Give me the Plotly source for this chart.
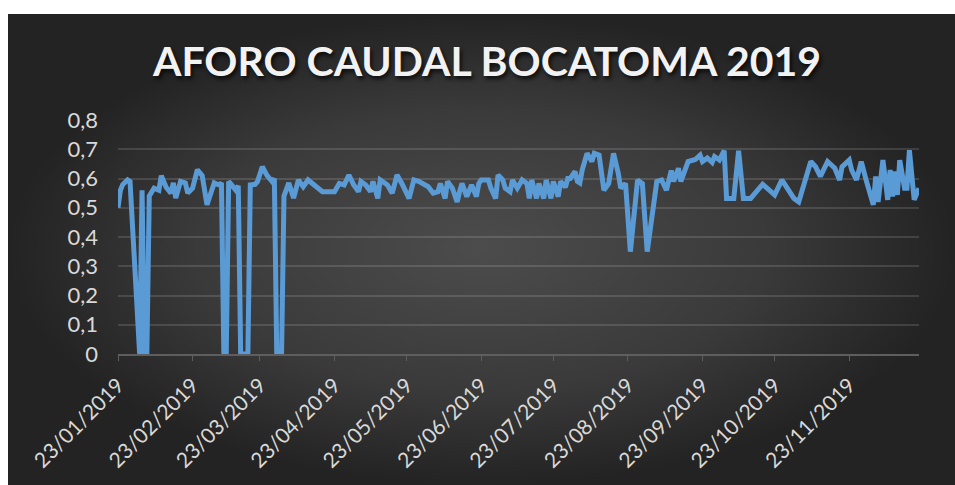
import plotly.graph_objects as go

# ---- data ----
fechas = [
    "2019-01-23", "2019-01-24", "2019-01-25", "2019-01-26", "2019-01-27", "2019-01-28",
    "2019-02-01", "2019-02-02", "2019-02-03", "2019-02-04", "2019-02-05", "2019-02-07",
    "2019-02-09", "2019-02-10", "2019-02-12", "2019-02-14", "2019-02-15", "2019-02-16",
    "2019-02-18", "2019-02-20", "2019-02-21", "2019-02-23", "2019-02-25", "2019-02-27",
    "2019-03-01", "2019-03-04", "2019-03-06", "2019-03-07", "2019-03-08", "2019-03-09",
    "2019-03-10", "2019-03-13", "2019-03-14", "2019-03-15", "2019-03-16", "2019-03-17",
    "2019-03-18", "2019-03-19", "2019-03-21", "2019-03-22", "2019-03-24", "2019-03-26",
    "2019-03-28", "2019-03-29", "2019-03-30", "2019-03-31", "2019-04-01", "2019-04-02",
    "2019-04-04", "2019-04-06", "2019-04-08", "2019-04-10", "2019-04-12", "2019-04-18",
    "2019-04-23", "2019-04-25", "2019-04-27", "2019-04-29", "2019-05-01", "2019-05-03",
    "2019-05-04", "2019-05-06", "2019-05-08", "2019-05-09", "2019-05-11", "2019-05-12",
    "2019-05-15", "2019-05-17", "2019-05-19", "2019-05-21", "2019-05-24", "2019-05-26",
    "2019-05-28", "2019-06-01", "2019-06-03", "2019-06-05", "2019-06-06", "2019-06-08",
    "2019-06-09", "2019-06-11", "2019-06-13", "2019-06-14", "2019-06-15", "2019-06-17",
    "2019-06-19", "2019-06-21", "2019-06-22", "2019-06-23", "2019-06-26", "2019-06-27",
    "2019-06-29", "2019-06-30", "2019-07-02", "2019-07-03", "2019-07-05", "2019-07-06",
    "2019-07-08", "2019-07-10", "2019-07-12", "2019-07-13", "2019-07-14", "2019-07-16",
    "2019-07-17", "2019-07-19", "2019-07-20", "2019-07-22", "2019-07-23", "2019-07-25",
    "2019-07-26", "2019-07-28", "2019-07-29", "2019-07-30", "2019-08-01", "2019-08-02",
    "2019-08-03", "2019-08-04", "2019-08-06", "2019-08-08", "2019-08-09", "2019-08-11",
    "2019-08-13", "2019-08-15", "2019-08-17", "2019-08-19", "2019-08-20", "2019-08-22",
    "2019-08-24", "2019-08-27", "2019-08-29", "2019-08-31", "2019-09-04", "2019-09-06",
    "2019-09-08", "2019-09-10", "2019-09-11", "2019-09-13", "2019-09-14", "2019-09-17",
    "2019-09-20", "2019-09-22", "2019-09-23", "2019-09-25", "2019-09-27", "2019-09-28",
    "2019-09-30", "2019-10-02", "2019-10-03", "2019-10-06", "2019-10-08", "2019-10-10",
    "2019-10-13", "2019-10-18", "2019-10-23", "2019-10-26", "2019-10-28", "2019-10-31",
    "2019-11-02", "2019-11-04", "2019-11-07", "2019-11-09", "2019-11-11", "2019-11-14",
    "2019-11-17", "2019-11-19", "2019-11-20", "2019-11-23", "2019-11-24", "2019-11-26",
    "2019-11-28", "2019-11-30", "2019-12-02", "2019-12-03", "2019-12-04", "2019-12-05",
    "2019-12-07", "2019-12-09", "2019-12-10", "2019-12-11", "2019-12-12", "2019-12-13",
    "2019-12-14", "2019-12-16", "2019-12-17", "2019-12-18", "2019-12-20", "2019-12-22",
]
caudal = [
    0.50, 0.56, 0.58, 0.59, 0.595, 0.59,
    0.00, 0.56, 0.00, 0.00, 0.54, 0.567,
    0.56, 0.61, 0.57, 0.55, 0.585, 0.533,
    0.59, 0.585, 0.55, 0.567, 0.63, 0.61,
    0.51, 0.585, 0.578, 0.585, 0.00, 0.00,
    0.59, 0.56, 0.575, 0.00, 0.00, 0.00,
    0.00, 0.578, 0.58, 0.59, 0.64, 0.61,
    0.59, 0.60, 0.00, 0.00, 0.00, 0.54,
    0.585, 0.533, 0.595, 0.572, 0.595, 0.555,
    0.555, 0.583, 0.578, 0.612, 0.578, 0.555,
    0.59, 0.578, 0.555, 0.59, 0.532, 0.595,
    0.578, 0.55, 0.612, 0.583, 0.532, 0.595,
    0.59, 0.572, 0.55, 0.555, 0.583, 0.532,
    0.59, 0.567, 0.52, 0.555, 0.583, 0.538,
    0.578, 0.538, 0.583, 0.595, 0.595, 0.567,
    0.532, 0.612, 0.595, 0.567, 0.555, 0.595,
    0.567, 0.595, 0.583, 0.532, 0.595, 0.532,
    0.583, 0.532, 0.595, 0.532, 0.59, 0.538,
    0.59, 0.57, 0.60, 0.60, 0.624, 0.59,
    0.585, 0.63, 0.686, 0.658, 0.686, 0.68,
    0.56, 0.583, 0.686, 0.617, 0.567, 0.583,
    0.35, 0.595, 0.583, 0.35, 0.59, 0.595,
    0.56, 0.627, 0.59, 0.635, 0.59, 0.658,
    0.665, 0.68, 0.658, 0.67, 0.655, 0.675,
    0.663, 0.695, 0.532, 0.532, 0.695, 0.532,
    0.532, 0.58, 0.544, 0.595, 0.567, 0.532,
    0.52, 0.578, 0.658, 0.64, 0.607, 0.658,
    0.635, 0.595, 0.64, 0.663, 0.629, 0.595,
    0.658, 0.595, 0.544, 0.51, 0.607, 0.52,
    0.663, 0.527, 0.629, 0.538, 0.624, 0.544,
    0.663, 0.567, 0.567, 0.697, 0.527, 0.567,
]

x_tick_fechas = ["2019-01-23", "2019-02-23", "2019-03-23", "2019-04-23", "2019-05-23",
                 "2019-06-23", "2019-07-23", "2019-08-23", "2019-09-23", "2019-10-23",
                 "2019-11-23"]
x_tick_etiquetas = ["23/01/2019", "23/02/2019", "23/03/2019", "23/04/2019", "23/05/2019",
                    "23/06/2019", "23/07/2019", "23/08/2019", "23/09/2019", "23/10/2019",
                    "23/11/2019"]
y_tick_valores = [0, 0.1, 0.2, 0.3, 0.4, 0.5, 0.6, 0.7, 0.8]
y_tick_etiquetas = ["0", "0,1", "0,2", "0,3", "0,4", "0,5", "0,6", "0,7", "0,8"]

titulo = "AFORO CAUDAL BOCATOMA 2019"

W, H = 955, 485
ML, MT = 8, 14
PW, PH = W - ML, H - MT

fig = go.Figure()

# background panel with radial gradient (drawn on its own full-size subplot)
fig.add_trace(go.Scatter(
    x=[0, 1, 1, 0, 0], y=[0, 0, 1, 1, 0],
    xaxis="x", yaxis="y",
    mode="lines", line=dict(width=0), fill="toself",
    fillgradient=dict(type="radial", colorscale=[[0, "#4c4c4c"], [0.6, "#3a3a3a"], [1, "#232323"]]),
    hoverinfo="skip", showlegend=False,
))

# data series
fig.add_trace(go.Scatter(
    x=fechas, y=caudal, xaxis="x2", yaxis="y2",
    mode="lines", line=dict(color="#5b9bd5", width=5, shape="linear"),
    showlegend=False, hovertemplate="%{x|%d/%m/%Y}: %{y}<extra></extra>",
))

# plot-area edges (page pixels)
x0, x1 = 118, 919
ytop, ybot = 120, 354
label_font = dict(family="Lato, 'Open Sans', sans-serif", size=21, color="#d9d9d9")

fig.update_layout(
    width=W, height=H,
    margin=dict(l=ML, r=0, t=MT, b=0, pad=0, autoexpand=False),
    paper_bgcolor="white", plot_bgcolor="rgba(0,0,0,0)",
    separators=",.",
    title=dict(
        text=titulo, x=487 / W, xanchor="center", y=1 - 62 / H, yanchor="middle",
        font=dict(family="Lato, 'Open Sans', sans-serif", size=41, color="#f2f2f2",
                  weight="bold", shadow="2px 3px 4px rgba(0,0,0,0.75)"),
    ),
    xaxis=dict(domain=[0, 1], range=[0, 1], visible=False, fixedrange=True, automargin=False),
    yaxis=dict(domain=[0, 1], range=[0, 1], visible=False, fixedrange=True, automargin=False),
    xaxis2=dict(
        domain=[(x0 - ML) / PW, (x1 - ML) / PW], anchor="y2", automargin=False,
        type="date", range=["2019-01-23", "2019-12-22"],
        tickmode="array", tickvals=x_tick_fechas, ticktext=x_tick_etiquetas,
        tickangle=-45, ticks="outside", ticklen=5, tickcolor="#5e5e5e", tickwidth=1,
        showline=True, linecolor="#5e5e5e", linewidth=1.5, showgrid=False, zeroline=False,
        tickfont=label_font, ticklabelstandoff=4,
    ),
    yaxis2=dict(
        domain=[(H - ybot) / PH, (H - ytop) / PH], anchor="x2", automargin=False,
        range=[0, 0.8], tickmode="array", tickvals=y_tick_valores, ticktext=y_tick_etiquetas,
        showgrid=True, gridcolor="rgba(255,255,255,0.13)", gridwidth=1.5,
        zeroline=False, showline=False, ticks="", tickfont=dict(label_font, size=22),
        ticklabelstandoff=19,
    ),
)

# remove the page's default body margin so the figure sits at the window's corner
fig.write_html("out.html",
               config={"displayModeBar": False},
               post_script="document.body.style.margin='0';document.body.style.overflow='hidden';")
